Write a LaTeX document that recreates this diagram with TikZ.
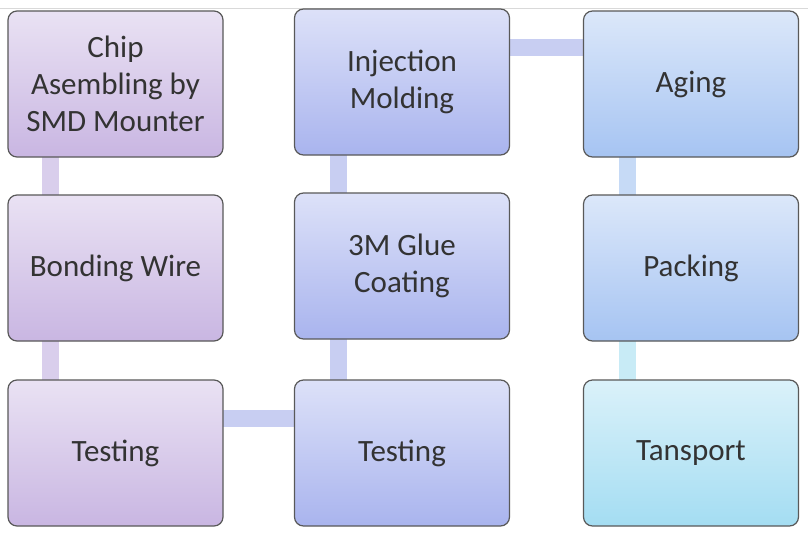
\documentclass[tikz,border=0pt]{standalone}
\usepackage{fontspec}
\setmainfont{Carlito}
\begin{document}
\begin{tikzpicture}[x=1pt,y=-1pt,
 box/.style={draw=black!65,line width=1.2pt,rounded corners=9pt,minimum width=215pt,minimum height=146pt,align=center,font=\fontsize{31}{37}\selectfont,text=black!80,inner sep=0pt},
 c1/.style={box,top color=#1!40,bottom color=#1},
 conn/.style={line width=17pt,draw=#1}]
\useasboundingbox[fill=white] (0,0) rectangle (808,536);
\definecolor{pa}{HTML}{C9B6E2}\definecolor{pb}{HTML}{A9B4EE}\definecolor{pc}{HTML}{A6C4F2}\definecolor{pd}{HTML}{A4DDF2}
\definecolor{la}{HTML}{D9CEEC}\definecolor{lb}{HTML}{C8CEF2}\definecolor{lc}{HTML}{C6DAF6}\definecolor{ld}{HTML}{C8EBF6}
\draw[black!15,line width=0.6pt] (0,8)--(808,8);
% connectors
\coordinate (a1) at (50,84);\coordinate (a3) at (50,452);
\draw[conn=la] (a1)--(a3);
\draw[conn=lb] (100,418)--(400,418);
\draw[conn=lb] (338,452)--(338,84);
\draw[conn=lb] (400,47)--(690,47);
\draw[conn=lc] (627,84)--(627,268);
\draw[conn=ld] (627,268)--(627,452);
% boxes
\node[c1=pa] (n1) at (115.5,84) {Chip\\Asembling by\\SMD Mounter};
\node[c1=pa] (n2) at (115.5,268) {Bonding Wire};
\node[c1=pa] (n3) at (115.5,453) {Testing};
\node[c1=pb] (n4) at (402,453) {Testing};
\node[c1=pb] (n5) at (402,266) {3M Glue\\Coating};
\node[c1=pb] (n6) at (402,82) {Injection\\Molding};
\node[c1=pc] (n7) at (691,84) {Aging};
\node[c1=pc] (n8) at (691,268) {Packing};
\node[c1=pd] (n9) at (691,453) {Tansport};
\end{tikzpicture}
\end{document}
